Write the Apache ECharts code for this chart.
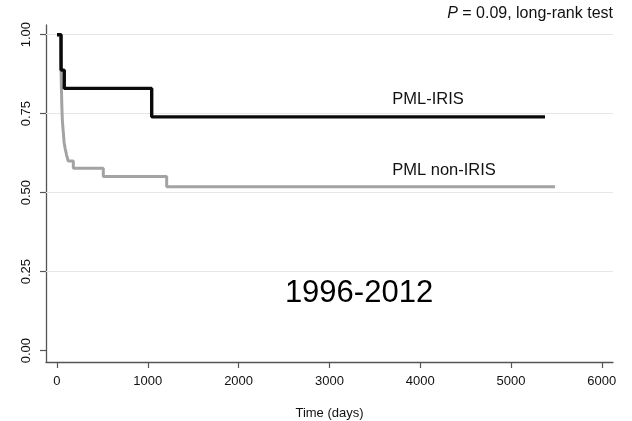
<!DOCTYPE html>
<html>
<head>
<meta charset="utf-8">
<script src="https://cdn.jsdelivr.net/npm/echarts@6/dist/echarts.min.js"></script>
<style>
html,body{margin:0;padding:0;background:#fff;}
#chart{width:632px;height:421px;}
</style>
</head>
<body>
<div id="chart"></div>
<script>
// Kaplan-Meier step data: [time (days), survival]
var irisTimes = [0, 45, 80, 1043, 5374];
var irisSurv  = [1.0, 0.888, 0.830, 0.740, 0.740];

var nonIrisTimes = [0, 40, 43, 46, 49, 52, 55, 59, 64, 70, 78, 90, 105, 124, 180, 510, 1208, 5485];
var nonIrisSurv  = [1.0, 0.95, 0.91, 0.87, 0.83, 0.79, 0.76, 0.73, 0.71, 0.69, 0.66, 0.64, 0.62, 0.60, 0.577, 0.551, 0.519, 0.519];

var xTicks = [0, 1000, 2000, 3000, 4000, 5000, 6000];
var yTicks = [0, 0.25, 0.5, 0.75, 1.0];
var yGridLines = [0.25, 0.5, 0.75, 1.0];

function zip(a, b) { return a.map(function (v, i) { return [v, b[i]]; }); }

var chart = echarts.init(document.getElementById('chart'), null, {renderer: 'canvas'});
var font = 'Liberation Sans, Arial, Helvetica, sans-serif';

chart.setOption({
  animation: false,
  backgroundColor: '#ffffff',
  grid: {left: 46, right: 19, top: 25, bottom: 59, containLabel: false, outerBoundsMode: 'none'},
  xAxis: {
    type: 'value',
    min: -121,
    max: 6123,
    name: 'Time (days)',
    nameLocation: 'middle',
    nameGap: 45,
    nameTextStyle: {fontFamily: font, fontSize: 13, color: '#111111'},
    axisLine: {show: true, onZero: false, lineStyle: {color: '#555555', width: 1.3}},
    axisTick: {show: true, length: 6, customValues: xTicks, lineStyle: {color: '#555555', width: 1.2}},
    axisLabel: {
      customValues: xTicks, margin: 13, fontFamily: font, fontSize: 13, color: '#111111',
      formatter: function (v) { return String(v); }
    },
    splitLine: {show: false}
  },
  yAxis: {
    type: 'value',
    min: -0.0358,
    max: 1.0307,
    axisLine: {show: true, onZero: false, lineStyle: {color: '#555555', width: 1.3}},
    axisTick: {show: true, length: 6, customValues: yTicks, lineStyle: {color: '#555555', width: 1.2}},
    axisLabel: {
      customValues: yTicks, rotate: 90, margin: 13,
      fontFamily: font, fontSize: 13, color: '#111111',
      formatter: function (v) { return v.toFixed(2); }
    },
    splitLine: {show: false}
  },
  series: [
    {
      type: 'line',
      data: [],
      z: 1,
      silent: true,
      markLine: {
        silent: true,
        z: 1,
        symbol: ['none', 'none'],
        label: {show: false},
        lineStyle: {color: '#e6e6e6', width: 1.2, type: 'solid'},
        emphasis: {disabled: true},
        data: yGridLines.map(function (v) { return {yAxis: v}; })
      }
    },
    {
      name: 'PML non-IRIS',
      type: 'line',
      step: 'end',
      z: 3,
      showSymbol: false,
      symbol: 'none',
      lineStyle: {color: '#a3a3a3', width: 3, cap: 'butt'},
      data: zip(nonIrisTimes, nonIrisSurv)
    },
    {
      name: 'PML-IRIS',
      type: 'line',
      step: 'end',
      z: 4,
      showSymbol: false,
      symbol: 'none',
      lineStyle: {color: '#0a0a0a', width: 3.4, cap: 'butt'},
      data: zip(irisTimes, irisSurv)
    }
  ],
  graphic: [
    {
      type: 'text', right: 19, top: 6,
      style: {
        text: '{i|P} = 0.09, long-rank test',
        fontFamily: font, fontSize: 16, fill: '#111111',
        rich: {i: {fontStyle: 'italic', fontFamily: font, fontSize: 16, fill: '#111111'}}
      }
    },
    {
      type: 'text', x: 428, y: 99,
      style: {text: 'PML-IRIS', fontFamily: font, fontSize: 16.5, fill: '#111111', align: 'center', verticalAlign: 'middle'}
    },
    {
      type: 'text', x: 444, y: 170,
      style: {text: 'PML non-IRIS', fontFamily: font, fontSize: 16.5, fill: '#111111', align: 'center', verticalAlign: 'middle'}
    },
    {
      type: 'text', x: 359, y: 293,
      style: {text: '1996-2012', fontFamily: font, fontSize: 31, fill: '#000000', align: 'center', verticalAlign: 'middle'}
    }
  ]
});
</script>
</body>
</html>
